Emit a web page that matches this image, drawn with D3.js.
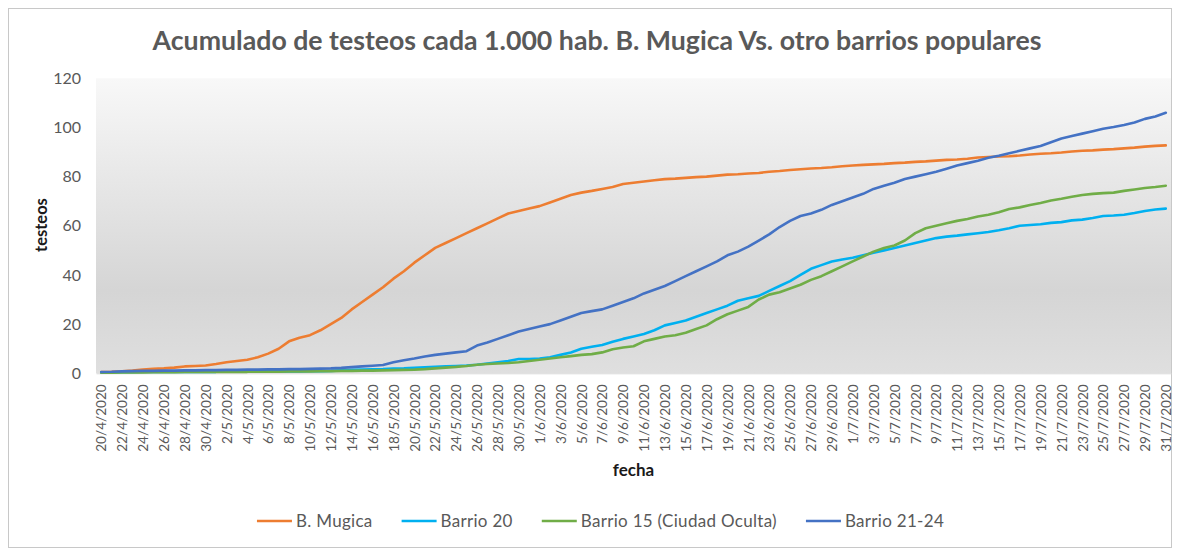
<!DOCTYPE html>
<html>
<head>
<meta charset="utf-8">
<script src="https://cdn.jsdelivr.net/npm/d3@7"></script>
<style>
  body { margin: 0; background: #fff; }
  text { font-family: Lato, "Open Sans", sans-serif; }
</style>
</head>
<body>
<div id="chart"></div>
<script>
// daily values, 20/4/2020 .. 31/7/2020
const mugica = [
  0.5, 0.6, 0.8, 1.1, 1.5, 1.8, 2.0, 2.3, 2.8, 3.0, 3.2,
  3.8, 4.5, 5.0, 5.5, 6.5, 8.0, 10.0, 13.0, 14.5, 15.5,
  17.5, 20.0, 22.5, 26.0, 29.0, 32.0, 35.0, 38.5, 41.5, 45.0,
  48.0, 51.0, 53.0, 55.0, 57.0, 59.0, 61.0, 63.0, 65.0, 66.0,
  67.0, 68.0, 69.5, 71.0, 72.5, 73.5, 74.2, 75.0, 75.8, 77.0,
  77.5, 78.0, 78.5, 79.0, 79.2, 79.5, 79.8, 80.0, 80.4, 80.8,
  81.0, 81.3, 81.5, 82.0, 82.3, 82.7, 83.0, 83.3, 83.5, 83.8,
  84.2, 84.5, 84.8, 85.0, 85.2, 85.5, 85.7, 86.0, 86.2, 86.5,
  86.8, 87.0, 87.3, 87.8, 88.0, 88.2, 88.3, 88.6, 89.0, 89.3,
  89.5, 89.8, 90.2, 90.5, 90.7, 91.0, 91.2, 91.5, 91.8, 92.2,
  92.5, 92.7
];
const barrio20 = [
  0.3, 0.3, 0.4, 0.4, 0.5, 0.5, 0.5, 0.5, 0.6, 0.6, 0.6,
  0.6, 0.7, 0.7, 0.7, 0.7, 0.8, 0.8, 0.8, 0.8, 0.9,
  0.9, 1.0, 1.2, 1.4, 1.5, 1.6, 1.7, 1.9, 2.0, 2.2,
  2.4, 2.6, 2.8, 3.0, 3.2, 3.5, 4.0, 4.5, 5.0, 5.8,
  5.8, 6.0, 6.5, 7.5, 8.5, 10.0, 10.8, 11.5, 12.8, 14.0,
  15.0, 16.0, 17.5, 19.5, 20.5, 21.5, 23.0, 24.5, 26.0, 27.5,
  29.5, 30.5, 31.5, 33.5, 35.5, 37.5, 40.0, 42.5, 44.0, 45.5,
  46.3, 47.0, 48.0, 49.0, 50.0, 51.0, 52.0, 53.0, 54.0, 55.0,
  55.6, 56.0, 56.5, 57.0, 57.5, 58.2, 59.0, 60.0, 60.3, 60.6,
  61.2, 61.5, 62.2, 62.5, 63.2, 64.0, 64.2, 64.5, 65.2, 66.0,
  66.6, 67.0
];
const barrio15 = [
  0.2, 0.2, 0.3, 0.3, 0.3, 0.4, 0.4, 0.4, 0.5, 0.5, 0.5,
  0.5, 0.6, 0.6, 0.6, 0.7, 0.7, 0.7, 0.8, 0.8, 0.8,
  0.9, 0.9, 1.0, 1.0, 1.1, 1.1, 1.2, 1.3, 1.4, 1.5,
  1.7, 2.0, 2.3, 2.6, 3.0, 3.5, 3.8, 4.0, 4.2, 4.5,
  5.0, 5.5, 6.0, 6.5, 7.0, 7.5, 7.8, 8.5, 9.8, 10.5,
  11.0, 13.0, 14.0, 15.0, 15.5, 16.5, 18.0, 19.5, 22.0, 24.0,
  25.5, 27.0, 30.0, 32.0, 33.0, 34.5, 36.0, 38.0, 39.5, 41.5,
  43.5, 45.5, 47.5, 49.5, 51.0, 52.0, 54.0, 57.0, 59.0, 60.0,
  61.0, 62.0, 62.8, 63.8, 64.5, 65.5, 66.8, 67.5, 68.5, 69.3,
  70.3, 71.0, 71.8, 72.5, 73.0, 73.3, 73.5, 74.2, 74.8, 75.4,
  75.8, 76.3
];
const barrio2124 = [
  0.5, 0.6, 0.8, 0.9, 1.0, 1.0, 1.1, 1.1, 1.2, 1.2, 1.3,
  1.3, 1.4, 1.4, 1.5, 1.5, 1.6, 1.6, 1.7, 1.7, 1.8,
  1.9, 2.0, 2.2, 2.5, 2.8, 3.1, 3.4, 4.5, 5.3, 6.0,
  6.8, 7.5, 8.0, 8.5, 9.0, 11.3, 12.5, 14.0, 15.5, 17.0,
  18.0, 19.0, 20.0, 21.5, 23.0, 24.5, 25.3, 26.0, 27.5, 29.0,
  30.5, 32.5, 34.0, 35.5, 37.5, 39.5, 41.5, 43.5, 45.5, 48.0,
  49.5, 51.5, 54.0, 56.5, 59.5, 62.0, 64.0, 65.0, 66.5, 68.5,
  70.0, 71.5, 73.0, 75.0, 76.3, 77.5, 79.0, 80.0, 81.0, 82.0,
  83.2, 84.5, 85.5, 86.5, 87.7, 88.5, 89.5, 90.5, 91.5, 92.5,
  94.0, 95.5, 96.5, 97.5, 98.5, 99.5, 100.2, 101.0, 102.0, 103.5,
  104.5, 106.0
];

const seriesNames = ["B. Mugica", "Barrio 20", "Barrio 15 (Ciudad Oculta)", "Barrio 21-24"];
const seriesColors = ["#ED7D31", "#00B0F0", "#70AD47", "#4472C4"];
const yTicks = [0, 20, 40, 60, 80, 100, 120];

const fmt = d3.timeFormat("%-d/%-m/%Y");
const dates = d3.timeDay.range(new Date(2020, 3, 20), new Date(2020, 7, 1)).map(fmt);
const tickLabels = dates.filter((d, i) => i % 2 === 0);

const series = [mugica, barrio20, barrio15, barrio2124].map((vals, k) => ({
  name: seriesNames[k],
  color: seriesColors[k],
  values: vals.map((v, i) => ({ date: dates[i], value: v }))
}));

const width = 1180, height = 550;
const plot = { left: 96, right: 1171, top: 78.3, bottom: 373.3 };

const svg = d3.select("#chart").append("svg")
  .attr("width", width)
  .attr("height", height);

// chart frame
svg.append("rect")
  .attr("x", 8.5).attr("y", 8.5)
  .attr("width", 1163).attr("height", 539)
  .attr("fill", "#fff")
  .attr("stroke", "#c8c8c8");

const grad = svg.append("defs").append("linearGradient")
  .attr("id", "bg").attr("x1", 0).attr("y1", 0).attr("x2", 0).attr("y2", 1);
grad.append("stop").attr("offset", "0%").attr("stop-color", "#f8f8f8");
grad.append("stop").attr("offset", "72%").attr("stop-color", "#d5d5d5");
grad.append("stop").attr("offset", "100%").attr("stop-color", "#dfdfdf");

svg.append("rect")
  .attr("x", plot.left).attr("y", plot.top)
  .attr("width", plot.right - plot.left)
  .attr("height", plot.bottom - plot.top)
  .attr("fill", "url(#bg)");

const x = d3.scalePoint()
  .domain(dates)
  .range([plot.left, plot.right])
  .padding(0.5);

const y = d3.scaleLinear()
  .domain([0, 120])
  .range([plot.bottom, plot.top]);

// y axis
const yAxis = svg.append("g")
  .attr("transform", `translate(${plot.left},0)`)
  .call(d3.axisLeft(y).tickValues(yTicks).tickSize(0).tickPadding(15));
yAxis.select(".domain").remove();
yAxis.selectAll("text")
  .style("font-size", "16px")
  .style("fill", "#595959");

// x axis
const xAxis = svg.append("g")
  .attr("transform", `translate(0,${plot.bottom})`)
  .call(d3.axisBottom(x).tickValues(tickLabels).tickSize(0));
xAxis.select(".domain")
  .attr("stroke", "#d9d9d9");
xAxis.selectAll("text")
  .attr("transform", "rotate(-90)")
  .attr("text-anchor", "end")
  .attr("x", -11)
  .attr("y", 0)
  .attr("dy", "0.35em")
  .style("font-size", "13.6px")
  .style("fill", "#595959");

// lines
const line = d3.line()
  .x(d => x(d.date))
  .y(d => y(d.value));

svg.append("g")
  .selectAll("path")
  .data(series)
  .join("path")
  .attr("fill", "none")
  .attr("stroke", d => d.color)
  .attr("stroke-width", 2.6)
  .attr("stroke-linejoin", "round")
  .attr("stroke-linecap", "round")
  .attr("d", d => line(d.values));

// titles
svg.append("text")
  .attr("x", 597)
  .attr("y", 50)
  .attr("text-anchor", "middle")
  .style("font-size", "26.7px")
  .style("font-weight", "bold")
  .style("fill", "#595959")
  .text("Acumulado de testeos cada 1.000 hab. B. Mugica Vs. otro barrios populares");

svg.append("text")
  .attr("transform", "translate(47,225) rotate(-90)")
  .attr("text-anchor", "middle")
  .style("font-size", "16.5px")
  .style("font-weight", "bold")
  .style("fill", "#1a1a1a")
  .text("testeos");

svg.append("text")
  .attr("x", (plot.left + plot.right) / 2)
  .attr("y", 476)
  .attr("text-anchor", "middle")
  .style("font-size", "17px")
  .style("font-weight", "bold")
  .style("fill", "#1a1a1a")
  .text("fecha");

// legend
const legend = svg.append("g");
let lx = 0;
series.forEach(s => {
  const item = legend.append("g").attr("transform", `translate(${lx},0)`);
  item.append("line")
    .attr("x1", 0).attr("x2", 35)
    .attr("y1", 0).attr("y2", 0)
    .attr("stroke", s.color)
    .attr("stroke-width", 2.6);
  const t = item.append("text")
    .attr("x", 39)
    .attr("dy", "0.35em")
    .style("font-size", "17px")
    .style("letter-spacing", "0.3px")
    .style("fill", "#595959")
    .text(s.name);
  lx += 39 + t.node().getComputedTextLength() + 29;
});
const legendW = lx - 29;
legend.attr("transform", `translate(${600.5 - legendW / 2},521)`);
</script>
</body>
</html>
